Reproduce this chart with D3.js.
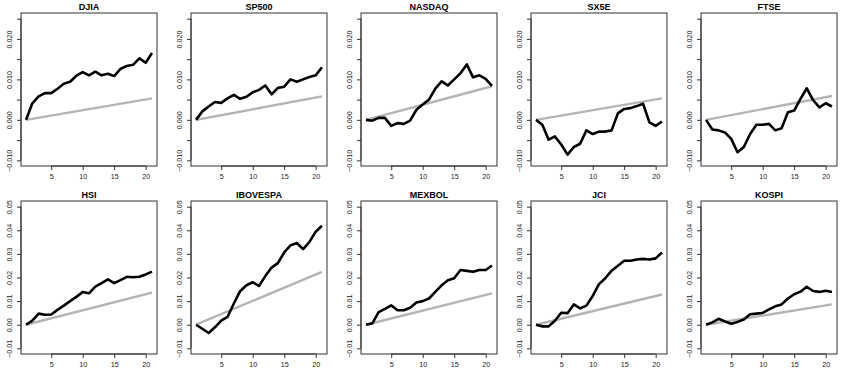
<!DOCTYPE html>
<html><head><meta charset="utf-8">
<script src="https://cdn.jsdelivr.net/npm/d3@7"></script>
<style>body{margin:0;background:#fff}svg{display:block}</style>
</head><body>
<script>
const names = ["DJIA","SP500","NASDAQ","SX5E","FTSE","HSI","IBOVESPA","MEXBOL","JCI","KOSPI"];
const days = d3.range(1, 22);
const djia   = [0,0.0041,0.0058,0.0066,0.0066,0.0077,0.0089,0.0094,0.0109,0.0118,0.011,0.0119,0.011,0.0114,0.0108,0.0126,0.0133,0.0136,0.0152,0.0141,0.0165];
const sp500  = [0,0.0021,0.0033,0.0044,0.0042,0.0053,0.0062,0.0052,0.0057,0.0068,0.0074,0.0085,0.0063,0.0079,0.0082,0.01,0.0094,0.01,0.0106,0.011,0.013];
const nasdaq = [0,-0.0002,0.0005,0.0005,-0.0015,-0.0008,-0.001,-0.0002,0.0025,0.0038,0.005,0.0077,0.0095,0.0085,0.01,0.0115,0.0137,0.0105,0.011,0.0101,0.0084];
const sx5e   = [0,-0.0012,-0.0049,-0.0041,-0.0061,-0.0086,-0.0067,-0.0059,-0.0026,-0.0035,-0.0029,-0.0029,-0.0026,0.0016,0.0027,0.0029,0.0034,0.004,-0.0006,-0.0015,-0.0004];
const ftse   = [0,-0.0024,-0.0026,-0.0031,-0.0047,-0.008,-0.0067,-0.0035,-0.0012,-0.0012,-0.001,-0.0026,-0.0021,0.0019,0.0023,0.0052,0.0078,0.0049,0.0031,0.0041,0.0033];
const hsi    = [0,0.0017,0.0047,0.0042,0.0043,0.0063,0.0081,0.01,0.0118,0.0139,0.0133,0.0161,0.0176,0.0192,0.0176,0.0189,0.0203,0.0201,0.0203,0.0213,0.0225];
const ibov   = [0,-0.0017,-0.0035,-0.0011,0.0017,0.0033,0.009,0.0142,0.0167,0.018,0.0164,0.0206,0.0242,0.0261,0.0306,0.0336,0.0346,0.032,0.035,0.0394,0.0419];
const mexbol = [0,0.0006,0.0053,0.0067,0.0082,0.0061,0.0061,0.0072,0.0094,0.01,0.0111,0.0139,0.0167,0.0188,0.0197,0.0232,0.0228,0.0224,0.0232,0.0232,0.0251];
const jci    = [0,-0.0007,-0.0007,0.0017,0.0051,0.0049,0.0086,0.0069,0.0081,0.0122,0.0172,0.0197,0.0229,0.025,0.0271,0.0271,0.0276,0.0279,0.0276,0.0281,0.0306];
const kospi  = [0,0.001,0.0025,0.0014,0.0004,0.0012,0.0022,0.0044,0.0047,0.005,0.0065,0.0078,0.0086,0.0111,0.0129,0.014,0.0161,0.0143,0.0139,0.0144,0.0139];
const seriesList = [djia, sp500, nasdaq, sx5e, ftse, hsi, ibov, mexbol, jci, kospi];
// benchmark (gray) line: value at day 1 and day 21
const benchEnd = [0.0053,0.0058,0.0083,0.0053,0.0059,0.0136,0.0224,0.0133,0.0128,0.0086];
const xTicks = [5,10,15,20];
const yTicksTop = [-0.010,-0.005,0,0.005,0.010,0.015,0.020,0.025];
const yLabelsTop = [-0.010,0,0.010,0.020];
const yTicksBot = [-0.01,0,0.01,0.02,0.03,0.04,0.05];

const W = 850, H = 376;
const svg = d3.select("body").append("svg").attr("width", W).attr("height", H);
const pw = 170, ph = 188;
const box = {l:21, r:157, t:13, b:166};
const FONT = "Liberation Sans, Arial, sans-serif";

names.forEach((name, i) => {
  const col = i % 5, row = Math.floor(i / 5);
  const g = svg.append("g").attr("transform", `translate(${col*pw},${row*ph})`);
  const x = d3.scaleLinear().domain([0.2, 21.8]).range([box.l, box.r]);
  const top = row === 0;
  const y = d3.scaleLinear().domain(top ? [-0.0114, 0.0264] : [-0.0124, 0.0524]).range([box.b, box.t]);
  const ticks = top ? yTicksTop : yTicksBot;
  const fmt = top ? d3.format(".3f") : d3.format(".2f");
  const labelSet = top ? yLabelsTop : yTicksBot;

  const bench = [[1, 0], [21, benchEnd[i]]];
  g.append("path").datum(bench)
    .attr("d", d3.line().x(d => x(d[0])).y(d => y(d[1])))
    .attr("fill", "none").attr("stroke", "#b4b4b4").attr("stroke-width", 2.4);
  const data = days.map((d, k) => [d, seriesList[i][k]]);
  g.append("path").datum(data)
    .attr("d", d3.line().x(d => x(d[0])).y(d => y(d[1])))
    .attr("fill", "none").attr("stroke", "#000").attr("stroke-width", 2.6)
    .attr("stroke-linejoin", "round");

  g.append("rect").attr("x", box.l).attr("y", box.t)
    .attr("width", box.r - box.l).attr("height", box.b - box.t)
    .attr("fill", "none").attr("stroke", "#333").attr("stroke-width", 1);

  const xa = g.append("g").attr("transform", `translate(0,${box.b})`)
    .call(d3.axisBottom(x).tickValues(xTicks).tickSize(4).tickPadding(4).tickFormat(d3.format("d")));
  xa.select(".domain").attr("d", `M${x(5)},0H${x(20)}`).attr("stroke", "#333");
  xa.selectAll(".tick line").attr("stroke", "#333");
  xa.selectAll("text").attr("font-family", FONT).attr("font-size", 7.2).attr("fill", "#222");

  const ya = g.append("g").attr("transform", `translate(${box.l},0)`)
    .call(d3.axisLeft(y).tickValues(ticks).tickSize(4).tickPadding(3)
      .tickFormat(d => labelSet.some(v => Math.abs(v - d) < 1e-9) ? fmt(d) : ""));
  ya.select(".domain").attr("d", `M0,${y(ticks[0])}V${y(ticks[ticks.length-1])}`).attr("stroke", "#333");
  ya.selectAll(".tick line").attr("stroke", "#333");
  ya.selectAll("text")
    .attr("font-family", FONT).attr("font-size", 7.2).attr("fill", "#222")
    .attr("transform", "rotate(-90)").attr("x", 0).attr("y", -9)
    .attr("text-anchor", "middle").attr("dy", "0");

  g.append("text").attr("x", (box.l + box.r) / 2).attr("y", 9.5)
    .attr("text-anchor", "middle").attr("font-family", FONT)
    .attr("font-weight", "bold").attr("font-size", 9).text(name);
});
</script>
</body></html>
